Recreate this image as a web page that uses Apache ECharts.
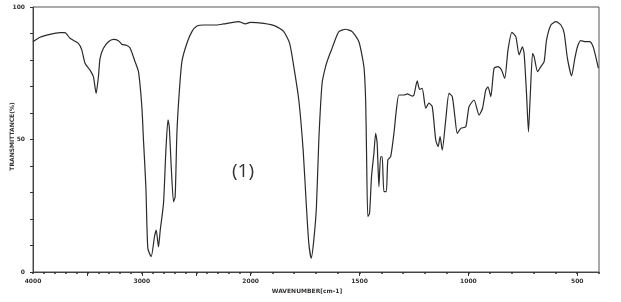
<!DOCTYPE html>
<html><head><meta charset="utf-8">
<script src="https://cdn.jsdelivr.net/npm/echarts@6/dist/echarts.min.js"></script>
<style>html,body{margin:0;padding:0;background:#fff}#c{width:621px;height:302px}</style>
</head><body><div id="c"></div>
<script>
// Wavenumbers (cm-1) and transmittance (%)
const wavenumbers = [4000,3936,3844,3752,3706,3660,3583,3552,3522,3476,3445,3420,3399,3384,3353,3307,3261,3215,3184,3138,3108,3068,3031,3000,2985,2963,2945,2914,2884,2868,2847,2831,2801,2779,2760,2748,2730,2709,2694,2678,2657,2632,2586,2540,2494,2433,2310,2249,2111,2049,2003,1940,1886,1848,1821,1802,1779,1759,1744,1733,1722,1710,1698,1687,1672,1656,1641,1629,1618,1595,1564,1534,1503,1480,1472,1468,1462,1454,1445,1434,1426,1419,1411,1403,1396,1388,1377,1370,1357,1342,1331,1319,1296,1281,1258,1250,1235,1224,1212,1196,1181,1166,1150,1139,1130,1120,1104,1089,1074,1062,1051,1035,1012,997,974,951,935,920,910,897,882,864,848,833,818,800,782,767,752,744,733,724,716,705,698,682,667,652,641,621,598,575,560,545,526,511,499,484,461,443,427,415,403];
const transmittance = [86.9,88.6,89.7,90.3,90.3,88.2,86.3,83.8,78.8,76.2,73.7,67.4,73.7,80.6,84.4,86.9,87.8,87.3,85.9,85.5,84.5,80,75.6,62.4,49.8,32.2,8.9,5.8,13.3,15.8,9.5,15.8,25.9,46,57.4,54.8,39.7,26.5,28.4,52.3,67.4,79.4,86.3,90.7,92.8,93.2,93.2,93.6,94.5,93.6,94.2,93.8,92.8,90.7,86.3,77.5,64.9,46,24.6,10.8,5.2,12.1,24.6,49.8,71.2,77.5,81.3,83.8,86.3,90.7,91.6,90.7,86.9,77.5,64.9,46,20.9,22.1,36,44.8,52.3,48.6,32.2,43.5,43.5,30.3,30.3,42.3,43.5,52.3,61.1,66.8,66.8,67.2,66.4,66.8,72.1,68.9,69.3,61.8,63.7,62.4,49.8,47.3,51.1,46,57.4,67.4,66.2,58.6,52.3,54.2,54.8,62.4,64.9,59.2,61.8,68.7,69.9,66.2,76.9,77.5,76.2,73.1,83.8,90.4,88.8,81.9,85,82.5,67.4,52.9,66.2,82.5,81.3,75.6,77.5,79.4,87.5,93.2,94.5,93.2,90.1,80.6,74,80.6,85,87.3,86.9,86.9,85,81.3,76.9];
const xTickLabels = [4000,3000,2000,1500,1000,500];
const yTickLabels = [0,50,100];
const xMajorTicks = [3500,3000,2500,2000,1500,1000,500];
const annotation = '(1)';

// IR instruments change scale at 2000 cm-1 (half scale above)
function toPos(w){ return w >= 2000 ? (4000 - w) / 2 : 1000 + (2000 - w); }
function toWave(p){ return p <= 1000 ? 4000 - 2 * p : 2000 - (p - 1000); }

const minorTicks = [];
for (let w = 4000; w >= 400; w -= 100) minorTicks.push(toPos(w));

const data = wavenumbers.map((w,i)=>[toPos(w), transmittance[i]]);
const lblFont = {fontSize:6, fontWeight:'bold', color:'#333', fontFamily:'DejaVu Sans'};

const chart = echarts.init(document.getElementById('c'));
chart.setOption({
  animation:false,
  grid:{left:33, right:22, top:7, bottom:30, outerBoundsMode:'none', containLabel:false, show:true, borderColor:'#555', borderWidth:1, backgroundColor:'transparent'},
  xAxis:[{
    type:'value', min:0, max:2600,
    name:'WAVENUMBER[cm-1]', nameLocation:'middle', nameGap:16, nameMoveOverlap:false,
    nameTextStyle:Object.assign({}, lblFont, {padding:[0,18,0,0]}),
    axisLine:{show:true, lineStyle:{color:'#444', width:1}},
    axisTick:{show:true, length:2, customValues:minorTicks, lineStyle:{color:'#333', width:1.5}},
    axisLabel:Object.assign({}, lblFont, {margin:6, hideOverlap:false, customValues:xTickLabels.map(toPos), formatter:v=>String(Math.round(toWave(v)))}),
    splitLine:{show:false}
  },{
    type:'value', min:0, max:2600, position:'bottom',
    axisLine:{show:false},
    axisTick:{show:true, length:4, customValues:xMajorTicks.map(toPos), lineStyle:{color:'#333', width:1}},
    axisLabel:{show:false}, splitLine:{show:false}
  }],
  yAxis:{
    type:'value', min:0, max:100, interval:10,
    name:'TRANSMITTANCE(%)', nameLocation:'middle', nameGap:18, nameRotate:90, nameMoveOverlap:false,
    nameTextStyle:Object.assign({}, lblFont, {padding:[0,0,0,6]}),
    axisLine:{show:true, lineStyle:{color:'#444', width:1}},
    axisTick:{show:true, length:3, lineStyle:{color:'#333'}},
    axisLabel:Object.assign({}, lblFont, {margin:8, formatter:v=>yTickLabels.includes(v)?String(v):''}),
    splitLine:{show:false}
  },
  series:[{
    type:'line', data:data, showSymbol:false, smooth:0.2,
    lineStyle:{color:'#2a2a2a', width:1.2}
  }],
  graphic:[{type:'text', left:232, top:162, style:{text:annotation, fontSize:19, fill:'#333', fontFamily:'Open Sans'}}]
});
</script></body></html>
